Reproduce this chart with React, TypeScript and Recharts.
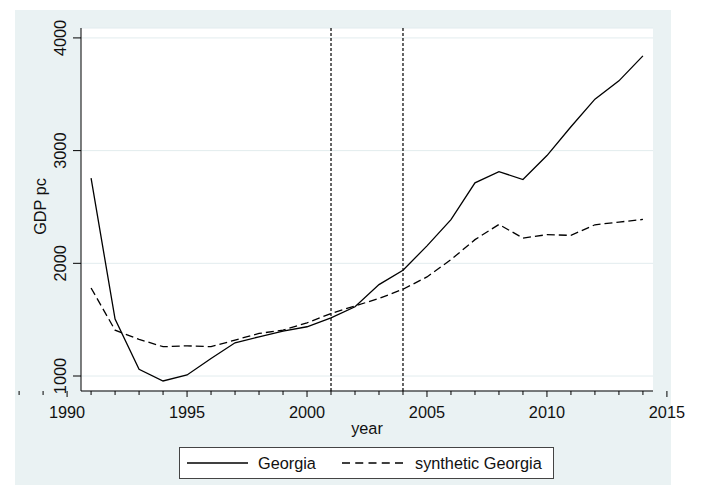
import React from 'react';
import { LineChart, Line, XAxis, YAxis, CartesianGrid, ReferenceLine, Legend, Label } from 'recharts';

const years = [1991, 1992, 1993, 1994, 1995, 1996, 1997, 1998, 1999, 2000, 2001, 2002, 2003, 2004, 2005, 2006, 2007, 2008, 2009, 2010, 2011, 2012, 2013, 2014];
const georgia = [2755, 1505, 1059, 956, 1009, 1156, 1295, 1348, 1398, 1437, 1516, 1614, 1811, 1938, 2155, 2387, 2714, 2814, 2743, 2956, 3212, 3457, 3619, 3841];
const syntheticGeorgia = [1781, 1407, 1325, 1260, 1268, 1260, 1319, 1378, 1407, 1472, 1555, 1622, 1688, 1770, 1879, 2033, 2210, 2345, 2224, 2254, 2248, 2342, 2366, 2389];
const seriesNames = ['Georgia', 'synthetic Georgia'];

const xTicks = [1988, 1989, 1990, 1991, 1992, 1993, 1994, 1995, 1996, 1997, 1998, 1999, 2000, 2001, 2002, 2003, 2004, 2005, 2006, 2007, 2008, 2009, 2010, 2011, 2012, 2013, 2014, 2015];
const xLabelYears = [1990, 1995, 2000, 2005, 2010, 2015];
const yTicks = [1000, 2000, 3000, 4000];
const treatmentYears = [2001, 2004];

const data = years.map((year, i) => ({ year, georgia: georgia[i], synthetic: syntheticGeorgia[i] }));

const FONT = '"Liberation Sans", Arial, Helvetica, sans-serif';
const FS = 16.3;

const XTick = (props: any) => {
  const { x, y, payload } = props;
  const v = payload.value;
  const major = xLabelYears.includes(v);
  return (
    <g>
      <line x1={x} x2={x} y1={y} y2={y + (major ? 6 : 4)} stroke="#000" strokeWidth={1} />
      {major && (
        <text x={x} y={y + 27} textAnchor="middle" fontFamily={FONT} fontSize={FS} fill="#111">
          {v}
        </text>
      )}
    </g>
  );
};

const YTick = (props: any) => {
  const { x, y, payload } = props;
  const bx = x - 7;
  return (
    <text x={bx} y={y} transform={`rotate(-90, ${bx}, ${y})`} textAnchor="middle" fontFamily={FONT} fontSize={FS} fill="#111">
      {payload.value}
    </text>
  );
};

const LegendContent = () => (
  <svg width={375} height={32} style={{ display: 'block' }}>
    <rect x={0.5} y={0.5} width={374} height={31} fill="#fff" stroke="#444" strokeWidth={1} />
    <line x1={8} x2={69} y1={16} y2={16} stroke="#000" strokeWidth={1.3} />
    <text x={79} y={21.5} fontFamily={FONT} fontSize={FS} fill="#111">{seriesNames[0]}</text>
    <line x1={163} x2={224} y1={16} y2={16} stroke="#000" strokeWidth={1.3} strokeDasharray="8 5.25" />
    <text x={236} y={21.5} fontFamily={FONT} fontSize={FS} fill="#111">{seriesNames[1]}</text>
  </svg>
);

export default function App() {
  return (
    <div style={{ position: 'absolute', left: 0, top: 0, width: 705, height: 495, background: '#fff', overflow: 'hidden' }}>
      <div style={{ position: 'absolute', left: 15, top: 10, width: 656, height: 475, background: '#eaf2f3' }} />
      <div style={{ position: 'absolute', left: 0, top: 0 }}>
        <LineChart width={705} height={495} data={data} margin={{ top: 28, right: 52, bottom: 74, left: 21 }}>
          <CartesianGrid vertical={false} fill="#fff" fillOpacity={1} stroke="#e2ecee" strokeWidth={1} />
          <XAxis
            dataKey="year"
            type="number"
            domain={[1990.58, 2014.42]}
            allowDataOverflow
            ticks={xTicks}
            interval={0}
            tickSize={0}
            tickMargin={0}
            tickLine={false}
            tick={<XTick />}
            axisLine={{ stroke: '#000', strokeWidth: 1 }}
            height={30}
          >
            <Label
              content={(p: any) => {
                const vb = p.viewBox;
                return (
                  <text x={vb.x + vb.width / 2} y={vb.y + 43} textAnchor="middle" fontFamily={FONT} fontSize={FS} fill="#111">
                    year
                  </text>
                );
              }}
            />
          </XAxis>
          <YAxis
            type="number"
            domain={[867, 4088]}
            allowDataOverflow
            ticks={yTicks}
            interval={0}
            tickSize={8}
            tickMargin={0}
            tickLine={{ stroke: '#000', strokeWidth: 1 }}
            tick={<YTick />}
            axisLine={{ stroke: '#000', strokeWidth: 1 }}
            width={60}
          >
            <Label
              content={(p: any) => {
                const vb = p.viewBox;
                const bx = vb.x + 25;
                const cy = vb.y + vb.height / 2 - 3;
                return (
                  <text x={bx} y={cy} transform={`rotate(-90, ${bx}, ${cy})`} textAnchor="middle" fontFamily={FONT} fontSize={FS} fill="#111">
                    GDP pc
                  </text>
                );
              }}
            />
          </YAxis>
          {treatmentYears.map((yr) => (
            <ReferenceLine key={yr} x={yr} stroke="#000" strokeWidth={1.2} strokeDasharray="3 2" />
          ))}
          <Line type="linear" dataKey="georgia" name={seriesNames[0]} stroke="#000" strokeWidth={1.3} dot={false} isAnimationActive={false} />
          <Line type="linear" dataKey="synthetic" name={seriesNames[1]} stroke="#000" strokeWidth={1.3} strokeDasharray="8 4" dot={false} isAnimationActive={false} />
          <Legend
            layout="horizontal"
            verticalAlign="middle"
            align="center"
            wrapperStyle={{ position: 'absolute', left: 179, top: 447, width: 375, height: 32 }}
            content={<LegendContent />}
          />
        </LineChart>
      </div>
    </div>
  );
}
